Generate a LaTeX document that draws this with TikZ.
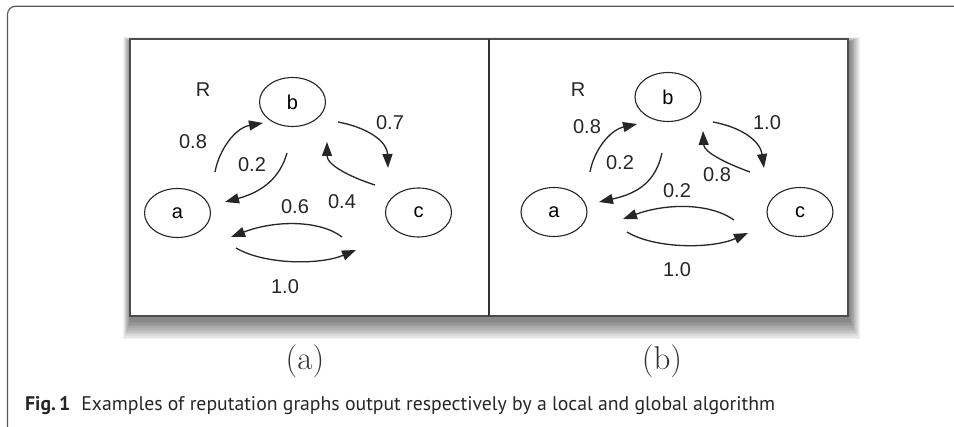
\documentclass[tikz,border=0pt]{standalone}
\usepackage{fontspec}
\usepackage{graphicx}
\newfontfamily\helv{Liberation Sans}
\newfontfamily\capfont{PT Sans}
\usetikzlibrary{arrows.meta,shapes.geometric}
\begin{document}
\begin{tikzpicture}[x=1pt,y=-1pt,
  gnode/.style={draw=black!85, line width=1.1pt, ellipse, minimum width=66pt, minimum height=49pt, inner sep=0pt, font=\helv\fontsize{20}{24}\selectfont},
  wlabel/.style={font=\helv\fontsize{20}{24}\selectfont, text=black!85, inner sep=0pt},
  edge/.style={draw=black!85, line width=1.3pt, -{Triangle[length=14pt,width=10pt]}},
  sublabel/.style={font=\fontsize{33}{36}\selectfont, inner sep=0pt, text=black!80},
]
\useasboundingbox (0,0) rectangle (954,427);
% outer frame
\draw[line width=1.2pt, black!65, rounded corners=8pt] (7.5,428) -- (7.5,6.3) -- (956,6.3);
% shadow of the inner box
\foreach \i in {1,...,12}
  \fill[black, opacity=0.05] (130.5-\i*0.6,42-\i*0.4) rectangle (849+\i*0.9,320+\i*1.6);
\fill[white] (130,39) rectangle (848,316);
\draw[line width=2pt, black!70] (130,39) rectangle (848,316);
\draw[line width=1.2pt, black!80] (489,39) -- (489,316);

% ---------- panel (a) ----------
\node[gnode] (a1) at (177.5,213) {a};
\node[gnode] (b1) at (292.5,102) {b};
\node[gnode] (c1) at (418.5,212.5) {c};
\node[wlabel] (R1) at (203,90) {R};
\node[wlabel] (l1ab) at (193,142) {0.8};
\node[wlabel] (l1ba) at (252,165) {0.2};
\node[wlabel] (l1bc) at (390,123) {0.7};
\node[wlabel] (l1ca) at (295,207) {0.6};
\node[wlabel] (l1cb) at (342,202) {0.4};
\node[wlabel] (l1ac) at (285,287) {1.0};

\coordinate (s1ab) at (215,172);  \coordinate (e1ab) at (263,123);
\coordinate (s1ba) at (287,153);  \coordinate (e1ba) at (225,202);
\coordinate (s1bc) at (338,122);  \coordinate (e1bc) at (388,168);
\coordinate (s1cb) at (375,185);  \coordinate (e1cb) at (327,142);
\coordinate (s1ca) at (342,237);  \coordinate (e1ca) at (231,237);
\coordinate (s1ac) at (236,248);  \coordinate (e1ac) at (356,250);

\draw[edge] (s1ab) .. controls (219,150) and (235,128) .. (e1ab);
\draw[edge] (s1ba) .. controls (280,178) and (262,192) .. (e1ba);
\draw[edge] (s1bc) .. controls (365,127) and (387,140) .. (e1bc);
\draw[edge] (s1cb) .. controls (350,177) and (327,165) .. (e1cb);
\draw[edge] (s1ca) .. controls (320,220) and (275,220) .. (e1ca);
\draw[edge] (s1ac) .. controls (265,265) and (320,265) .. (e1ac);

% ---------- panel (b) ----------
\node[gnode] (a2) at (554,212) {a};
\node[gnode] (b2) at (668,97) {b};
\node[gnode] (c2) at (800,212) {c};
\node[wlabel] (R2) at (578,90) {R};
\node[wlabel] (l2ab) at (587,127) {0.8};
\node[wlabel] (l2ba) at (620,163) {0.2};
\node[wlabel] (l2bc) at (767,123) {1.0};
\node[wlabel] (l2cb) at (717,175) {0.8};
\node[wlabel] (l2ca) at (677,191) {0.2};
\node[wlabel] (l2ac) at (677,270) {1.0};

\coordinate (s2ab) at (590,172);  \coordinate (e2ab) at (637,124);
\coordinate (s2ba) at (662,153);  \coordinate (e2ba) at (599,202);
\coordinate (s2bc) at (713,122);  \coordinate (e2bc) at (764,168);
\coordinate (s2cb) at (750,172);  \coordinate (e2cb) at (703,131);
\coordinate (s2ca) at (734,220);  \coordinate (e2ca) at (623,219);
\coordinate (s2ac) at (627,232);  \coordinate (e2ac) at (748,233);

\draw[edge] (s2ab) .. controls (594,150) and (610,130) .. (e2ab);
\draw[edge] (s2ba) .. controls (656,180) and (640,193) .. (e2ba);
\draw[edge] (s2bc) .. controls (740,127) and (760,140) .. (e2bc);
\draw[edge] (s2cb) .. controls (725,163) and (704,152) .. (e2cb);
\draw[edge] (s2ca) .. controls (710,203) and (667,203) .. (e2ca);
\draw[edge] (s2ac) .. controls (655,249) and (712,249) .. (e2ac);

% ---------- sub-captions and caption ----------
\node[sublabel] (suba) at (305,361) {(a)};
\node[sublabel] (subb) at (662,361) {(b)};
\node[anchor=base west, inner sep=0pt, text=black!85] (cap) at (25,411)
  {\resizebox{750pt}{!}{\capfont\fontsize{19}{22}\selectfont\textbf{Fig.\,1}\hspace{0.55em}Examples of reputation graphs output respectively by a local and global algorithm}};
\end{tikzpicture}
\end{document}
